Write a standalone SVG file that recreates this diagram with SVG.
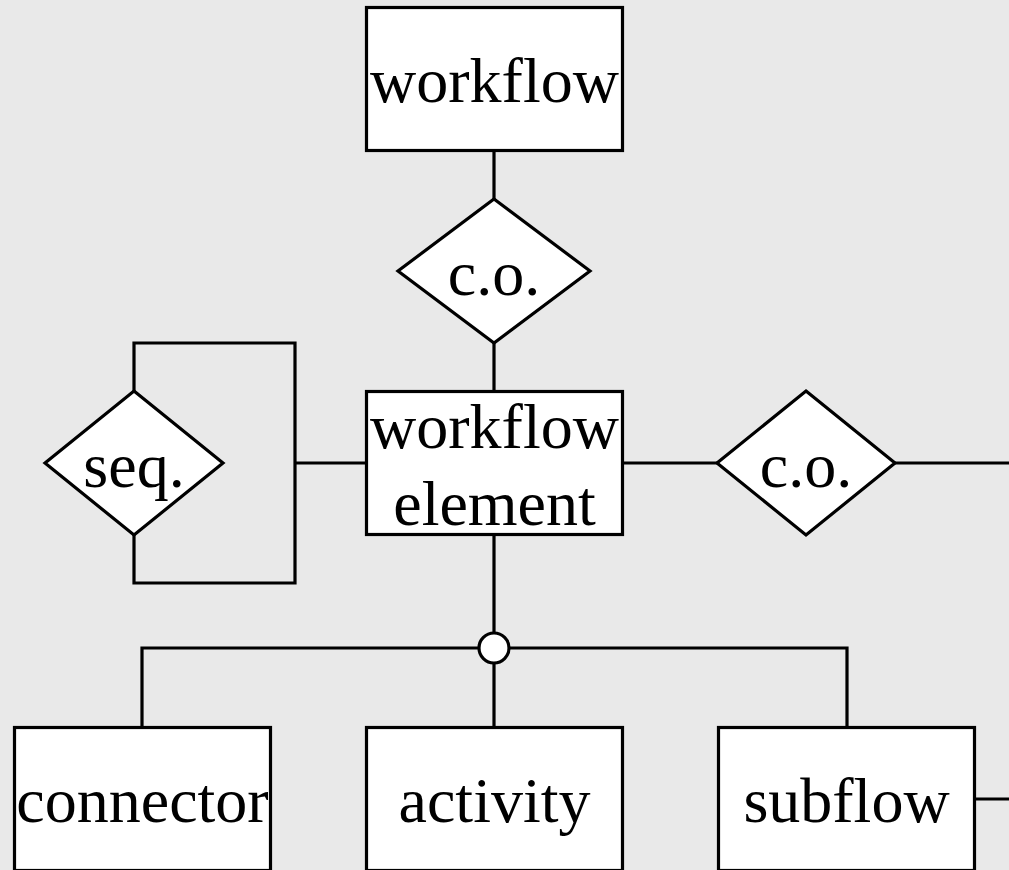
<svg xmlns="http://www.w3.org/2000/svg" width="1009" height="870" viewBox="0 0 1009 870">
<style>
.box{fill:#fff;stroke:#000;stroke-width:3.2}
.line{fill:none;stroke:#000;stroke-width:3.2}
.t{font-family:"Liberation Serif","Times New Roman",serif;font-size:64px;fill:#000;text-anchor:middle}
</style>
<rect width="1009" height="870" fill="#e9e9e9"/>
<g id="connectors">
<path class="line" d="M494 151V199"/>
<path class="line" d="M494 343V391"/>
<path class="line" d="M366 463H295"/>
<path class="line" d="M134 391V343H295V583H134V535"/>
<path class="line" d="M623 463H717"/>
<path class="line" d="M895 463H1009"/>
<path class="line" d="M494 535V633"/>
<path class="line" d="M142 727V648H847V727"/>
<path class="line" d="M494 663V727"/>
<path class="line" d="M975 799H1009"/>
</g>
<g id="workflow"><rect class="box" x="366.5" y="7.5" width="256" height="143"/><text class="t" x="494.5" y="102">workflow</text></g>
<g id="co-top"><polygon class="box" points="494,199 590,271 494,343 398,271"/><text class="t" x="494" y="295">c.o.</text></g>
<g id="workflow-element"><rect class="box" x="366.5" y="391.5" width="256" height="143"/><text class="t" x="494.5" y="448">workflow</text><text class="t" x="494.5" y="525">element</text></g>
<g id="seq"><polygon class="box" points="134,391 223,463 134,535 45,463"/><text class="t" x="134" y="487">seq.</text></g>
<g id="co-right"><polygon class="box" points="806,391 895,463 806,535 717,463"/><text class="t" x="806" y="487">c.o.</text></g>
<g id="isa"><circle class="box" cx="494" cy="648" r="15"/></g>
<g id="connector"><rect class="box" x="14.5" y="727.5" width="256" height="143"/><text class="t" x="142.5" y="822">connector</text></g>
<g id="activity"><rect class="box" x="366.5" y="727.5" width="256" height="143"/><text class="t" x="494.5" y="822">activity</text></g>
<g id="subflow"><rect class="box" x="718.5" y="727.5" width="256" height="143"/><text class="t" x="846.5" y="822">subflow</text></g>
</svg>
